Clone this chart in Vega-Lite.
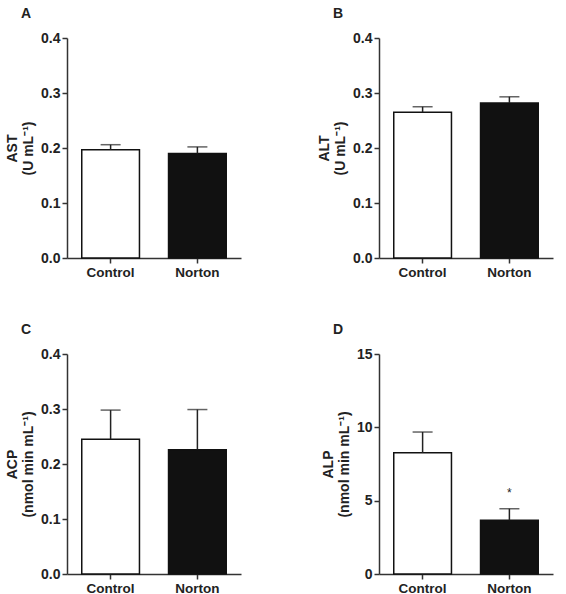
{
  "$schema": "https://vega.github.io/schema/vega-lite/v6.json",
  "background": "white",
  "padding": {"left": 5, "top": 7, "right": 5, "bottom": 0},
  "config": {
    "font": "Liberation Sans",
    "view": {"stroke": null},
    "axis": {"grid": false, "domainColor": "#333", "domainWidth": 1.5, "tickColor": "#333", "tickWidth": 1.5, "tickSize": 5, "labelFont": "Liberation Sans", "labelFontWeight": "bold", "labelColor": "#222", "titleFont": "Liberation Sans", "titleFontWeight": "bold", "titleColor": "#222"},
    "title": {"font": "Liberation Sans", "fontWeight": "bold", "fontSize": 14, "color": "#222", "anchor": "start", "frame": "group"}
  },
  "data": {"values": [
    {"panel": "A", "group": "Control", "mean": 0.197, "upper": 0.206, "sig": ""},
    {"panel": "A", "group": "Norton", "mean": 0.190, "upper": 0.202, "sig": ""},
    {"panel": "B", "group": "Control", "mean": 0.265, "upper": 0.275, "sig": ""},
    {"panel": "B", "group": "Norton", "mean": 0.282, "upper": 0.293, "sig": ""},
    {"panel": "C", "group": "Control", "mean": 0.245, "upper": 0.298, "sig": ""},
    {"panel": "C", "group": "Norton", "mean": 0.226, "upper": 0.299, "sig": ""},
    {"panel": "D", "group": "Control", "mean": 8.26, "upper": 9.68, "sig": ""},
    {"panel": "D", "group": "Norton", "mean": 3.66, "upper": 4.45, "sig": "*"}
  ]},
  "columns": 2,
  "spacing": {"row": 44, "column": 76},
  "concat": [
    {
      "title": {"text": "A", "dx": -46, "offset": 10},
      "width": 174, "height": 220,
      "transform": [{"filter": "datum.panel === 'A'"}],
      "encoding": {
        "x": {"field": "group", "type": "nominal", "sort": ["Control", "Norton"], "scale": {"paddingInner": 0.335, "paddingOuter": 0.17}, "axis": {"title": null, "labelAngle": 0, "labelFontSize": 13.5, "labelPadding": 2}}
      },
      "layer": [
        {"mark": {"type": "bar", "stroke": "#111", "strokeWidth": 1.5},
         "encoding": {
           "y": {"field": "mean", "type": "quantitative", "scale": {"domain": [0, 0.4], "nice": false}, "axis": {"values": [0, 0.1, 0.2, 0.3, 0.4], "format": ".1f", "labelFontSize": 14, "title": ["AST", "(U mL⁻¹)"], "titleFontSize": 14, "titlePadding": 5}},
           "color": {"field": "group", "type": "nominal", "scale": {"domain": ["Control", "Norton"], "range": ["#ffffff", "#111111"]}, "legend": null}}},
        {"mark": {"type": "rule", "color": "#222", "strokeWidth": 1.5},
         "encoding": {"y": {"field": "mean", "type": "quantitative"}, "y2": {"field": "upper"}}},
        {"mark": {"type": "tick", "color": "#222", "thickness": 1.5, "size": 20},
         "encoding": {"y": {"field": "upper", "type": "quantitative"}}}
      ]
    },
    {
      "title": {"text": "B", "dx": -46, "offset": 10},
      "width": 174, "height": 220,
      "transform": [{"filter": "datum.panel === 'B'"}],
      "encoding": {
        "x": {"field": "group", "type": "nominal", "sort": ["Control", "Norton"], "scale": {"paddingInner": 0.335, "paddingOuter": 0.17}, "axis": {"title": null, "labelAngle": 0, "labelFontSize": 13.5, "labelPadding": 2}}
      },
      "layer": [
        {"mark": {"type": "bar", "stroke": "#111", "strokeWidth": 1.5},
         "encoding": {
           "y": {"field": "mean", "type": "quantitative", "scale": {"domain": [0, 0.4], "nice": false}, "axis": {"values": [0, 0.1, 0.2, 0.3, 0.4], "format": ".1f", "labelFontSize": 14, "title": ["ALT", "(U mL⁻¹)"], "titleFontSize": 14, "titlePadding": 5}},
           "color": {"field": "group", "type": "nominal", "scale": {"domain": ["Control", "Norton"], "range": ["#ffffff", "#111111"]}, "legend": null}}},
        {"mark": {"type": "rule", "color": "#222", "strokeWidth": 1.5},
         "encoding": {"y": {"field": "mean", "type": "quantitative"}, "y2": {"field": "upper"}}},
        {"mark": {"type": "tick", "color": "#222", "thickness": 1.5, "size": 20},
         "encoding": {"y": {"field": "upper", "type": "quantitative"}}}
      ]
    },
    {
      "title": {"text": "C", "dx": -46, "offset": 10},
      "width": 174, "height": 220,
      "transform": [{"filter": "datum.panel === 'C'"}],
      "encoding": {
        "x": {"field": "group", "type": "nominal", "sort": ["Control", "Norton"], "scale": {"paddingInner": 0.335, "paddingOuter": 0.17}, "axis": {"title": null, "labelAngle": 0, "labelFontSize": 13.5, "labelPadding": 2}}
      },
      "layer": [
        {"mark": {"type": "bar", "stroke": "#111", "strokeWidth": 1.5},
         "encoding": {
           "y": {"field": "mean", "type": "quantitative", "scale": {"domain": [0, 0.4], "nice": false}, "axis": {"values": [0, 0.1, 0.2, 0.3, 0.4], "format": ".1f", "labelFontSize": 14, "title": ["ACP", "(nmol min mL⁻¹)"], "titleFontSize": 14, "titlePadding": 5}},
           "color": {"field": "group", "type": "nominal", "scale": {"domain": ["Control", "Norton"], "range": ["#ffffff", "#111111"]}, "legend": null}}},
        {"mark": {"type": "rule", "color": "#222", "strokeWidth": 1.5},
         "encoding": {"y": {"field": "mean", "type": "quantitative"}, "y2": {"field": "upper"}}},
        {"mark": {"type": "tick", "color": "#222", "thickness": 1.5, "size": 20},
         "encoding": {"y": {"field": "upper", "type": "quantitative"}}}
      ]
    },
    {
      "title": {"text": "D", "dx": -46, "offset": 10},
      "width": 174, "height": 220,
      "transform": [{"filter": "datum.panel === 'D'"}],
      "encoding": {
        "x": {"field": "group", "type": "nominal", "sort": ["Control", "Norton"], "scale": {"paddingInner": 0.335, "paddingOuter": 0.17}, "axis": {"title": null, "labelAngle": 0, "labelFontSize": 13.5, "labelPadding": 2}}
      },
      "layer": [
        {"mark": {"type": "bar", "stroke": "#111", "strokeWidth": 1.5},
         "encoding": {
           "y": {"field": "mean", "type": "quantitative", "scale": {"domain": [0, 15], "nice": false}, "axis": {"values": [0, 5, 10, 15], "format": "d", "labelFontSize": 14, "title": ["ALP", "(nmol min mL⁻¹)"], "titleFontSize": 14, "titlePadding": 5}},
           "color": {"field": "group", "type": "nominal", "scale": {"domain": ["Control", "Norton"], "range": ["#ffffff", "#111111"]}, "legend": null}}},
        {"mark": {"type": "rule", "color": "#222", "strokeWidth": 1.5},
         "encoding": {"y": {"field": "mean", "type": "quantitative"}, "y2": {"field": "upper"}}},
        {"mark": {"type": "tick", "color": "#222", "thickness": 1.5, "size": 20},
         "encoding": {"y": {"field": "upper", "type": "quantitative"}}},
        {"mark": {"type": "text", "color": "#222", "fontSize": 12, "dy": -16},
         "encoding": {"y": {"field": "upper", "type": "quantitative"}, "text": {"field": "sig"}}}
      ]
    }
  ]
}
